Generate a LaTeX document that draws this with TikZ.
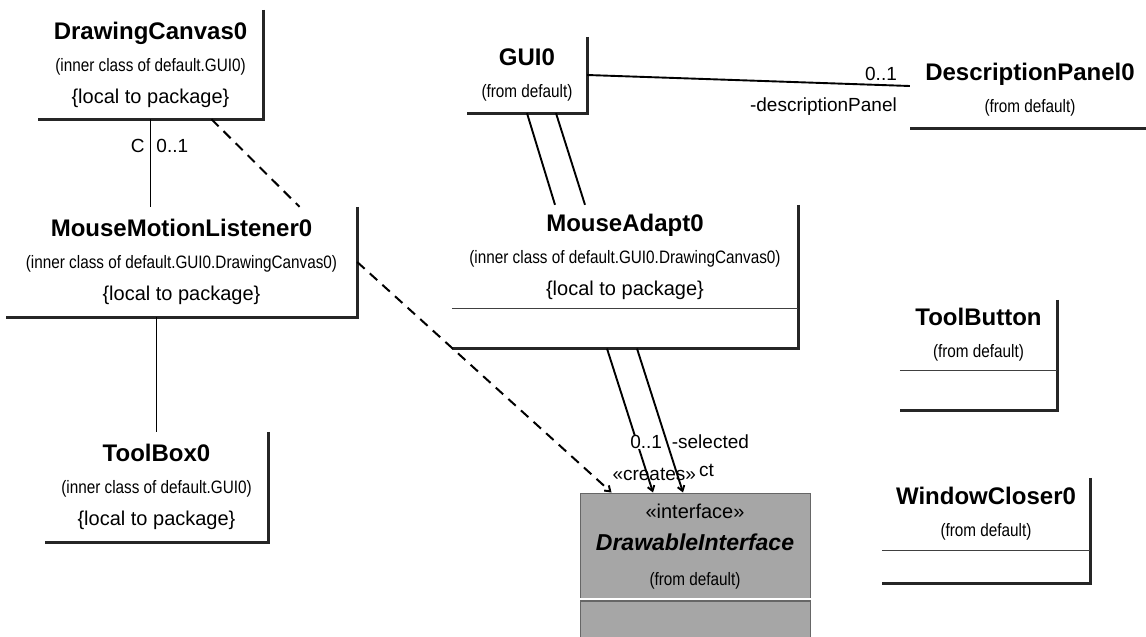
\documentclass[tikz,border=0pt]{standalone}
\usepackage{fontspec}
\setmainfont{Liberation Sans}
\newfontfamily\notefont[FakeStretch=0.85]{Liberation Sans}
\usetikzlibrary{arrows.meta, positioning}

\newcommand\clsname[1]{{\fontsize{24}{32}\selectfont\bfseries #1}}
\newcommand\clsnote[1]{{\notefont\fontsize{18}{32}\selectfont #1}}
\newcommand\clsscope[1]{{\fontsize{20}{32}\selectfont #1}}

\tikzset{
  cls/.style={
    rectangle, inner sep=0pt, align=center,
    font=\fontsize{20}{32}\selectfont,
  },
  ops/.style={rectangle, inner sep=0pt},
  rim/.style={line width=2.8pt, black!85},
  sep/.style={line width=1.4pt, black!75},
  assoc/.style={line width=1.9pt},
  dep/.style={line width=2pt, dash pattern=on 10pt off 7pt},
  tip/.style={-{Straight Barb[length=5pt,width=7pt]}},
  lbl/.style={font=\fontsize{19}{22}\selectfont, inner sep=0pt},
}

\begin{document}
\begin{tikzpicture}[x=1pt, y=-1pt]
  \useasboundingbox[fill=white] (0,0) rectangle (1146,637);

  % classes with one compartment
  \node[cls, minimum width=225pt, minimum height=109pt] (dc) at (150.5,64.5)
    {\clsname{DrawingCanvas0}\\ \clsnote{(inner class of default.GUI0)}\\
     \clsscope{\{local to package\}}};
  \node[cls, minimum width=351pt, minimum height=110pt] (mml) at (181.5,262)
    {\clsname{MouseMotionListener0}\\
     \clsnote{(inner class of default.GUI0.DrawingCanvas0)}\\
     \clsscope{\{local to package\}}};
  \node[cls, minimum width=223pt, minimum height=110pt] (tb) at (156.5,487)
    {\clsname{ToolBox0}\\ \clsnote{(inner class of default.GUI0)}\\
     \clsscope{\{local to package\}}};
  \node[cls, minimum width=120pt, minimum height=76pt] (gui) at (527,75)
    {\clsname{GUI0}\\ \clsnote{(from default)}};
  \node[cls, minimum width=240pt, minimum height=76pt] (dp) at (1030,90)
    {\clsname{DescriptionPanel0}\\ \clsnote{(from default)}};

  % classes with an empty operations compartment
  \node[cls, minimum width=346pt, minimum height=103pt] (ma) at (625,256.5)
    {\clsname{MouseAdapt0}\\
     \clsnote{(inner class of default.GUI0.DrawingCanvas0)}\\
     \clsscope{\{local to package\}}};
  \node[ops, minimum width=346pt, minimum height=40pt, below=0pt of ma] (ma-ops) {};
  \node[cls, minimum width=157pt, minimum height=70pt] (tbn) at (978.5,335)
    {\clsname{ToolButton}\\ \clsnote{(from default)}};
  \node[ops, minimum width=157pt, minimum height=40pt, below=0pt of tbn] (tbn-ops) {};
  \node[cls, minimum width=208pt, minimum height=72pt] (wc) at (986,514)
    {\clsname{WindowCloser0}\\ \clsnote{(from default)}};
  \node[ops, minimum width=208pt, minimum height=33pt, below=0pt of wc] (wc-ops) {};

  % the interface, shaded
  \node[cls, fill=black!35, draw=black!60, line width=1pt,
        minimum width=230pt, minimum height=107pt] (di) at (695,546.5)
    {\clsscope{«interface»}\\
     {\fontsize{23}{32}\selectfont\bfseries\itshape DrawableInterface}\\[3pt]
     \clsnote{(from default)}};
  \node[ops, fill=black!35, draw=black!60, line width=1pt,
        minimum width=230pt, minimum height=60pt, below=0pt of di] (di-ops) {};
  \draw[white, line width=2pt] ([yshift=2pt]di.south west) -- ([yshift=2pt]di.south east);

  % box edges
  \foreach \n in {dc, mml, tb, gui, dp}
    \draw[rim] (\n.north east) -- (\n.south east) -- (\n.south west);
  \foreach \n in {ma, tbn, wc}{
    \draw[rim] (\n.north east) -- (\n-ops.south east) -- (\n-ops.south west);
    \draw[sep] (\n.south west) -- (\n.south east);
  }

  % relations
  \draw[assoc] (dc.south) -- (dc.south |- mml.north)
    node[lbl, pos=.31, left=5pt] (dc-role) {C}
    node[lbl, pos=.31, right=5pt] (dc-mult) {0..1};
  \draw[dep] ([xshift=61pt]dc.south) -- ([xshift=118pt]mml.north);
  \draw[assoc] (tb.north) -- (tb.north |- mml.south);
  \draw[assoc] (gui.east) -- ([yshift=4pt]dp.west)
    node[lbl, at end, anchor=south east, xshift=-12pt, yshift=4pt] (dp-mult) {0..1}
    node[lbl, at end, anchor=north east, xshift=-12pt, yshift=-11pt] (dp-role) {-descriptionPanel};
  \draw[assoc] (gui.south) -- ([xshift=-70pt]ma.north);
  \draw[assoc] ([xshift=29pt]gui.south) -- ([xshift=-40pt]ma.north);
  \draw[assoc, tip] ([xshift=-18pt]ma-ops.south) -- ([xshift=-42pt]di.north);
  \draw[assoc, tip] ([xshift=12pt]ma-ops.south) -- ([xshift=-12pt]di.north)
    node[lbl, fill=white, pos=.65, left=4pt] (sel-mult) {0..1}
    node[lbl, pos=.65, right=4pt] (sel-role) {-selected}
    node[lbl, pos=.85, right=22pt] (sel-rest) {ct};
  \draw[dep, tip] (mml.east) -- ([xshift=32pt]di.north west)
    node[lbl, at end, anchor=south west, yshift=11pt] (dep-st) {«creates»};
\end{tikzpicture}
\end{document}
